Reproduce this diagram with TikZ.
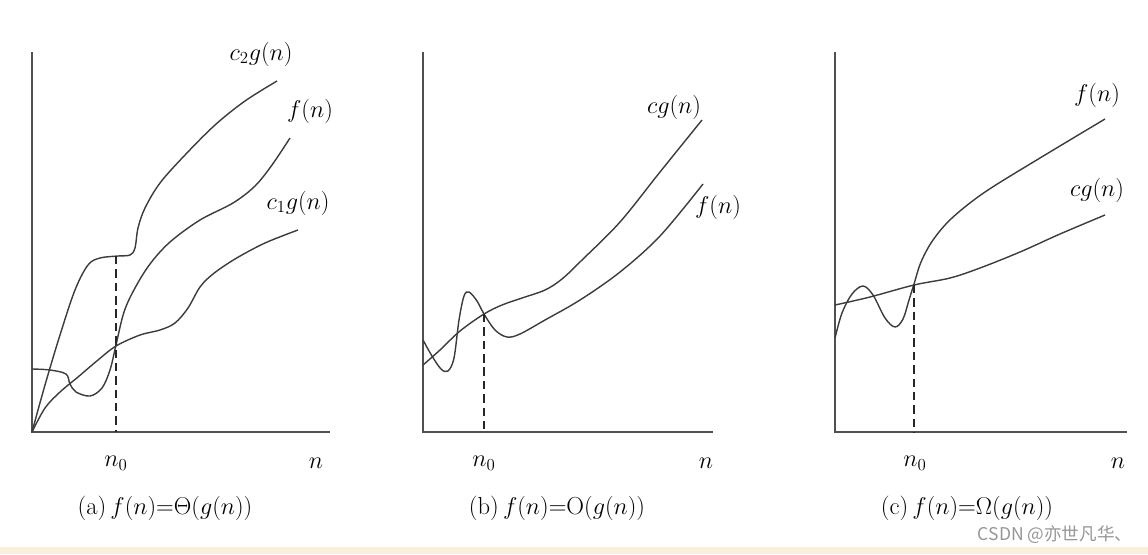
\documentclass[tikz,border=0pt]{standalone}
\usepackage{fontspec}
\usepackage{tikz}
\usetikzlibrary{positioning, calc}
\newfontfamily\cjk{Noto Sans CJK SC}
\definecolor{curvegray}{RGB}{60, 60, 60}
\definecolor{axisgray}{RGB}{80, 80, 80}
\definecolor{markgray}{RGB}{150, 150, 150}
\definecolor{sandbg}{RGB}{250, 238, 220}

\begin{document}
\begin{tikzpicture}[x=0.025cm, y=-0.025cm,
  axis/.style={draw=axisgray, line width=1.3pt},
  curve/.style={draw=curvegray, line width=1pt, smooth, tension=0.55},
  drop/.style={draw=black!85, line width=1.8pt, dash pattern=on 6pt off 3.5pt},
  lbl/.style={font=\fontsize{18}{20}\selectfont, inner sep=0pt},
  capt/.style={font=\fontsize{17.5}{20}\selectfont, inner sep=0pt}
]
  \useasboundingbox (0,0) rectangle (1148,554);
  \fill[sandbg] (0,547) rectangle (1148,554);

  % (a) Theta
  \coordinate (oa) at (32,432);
  \coordinate (ta) at (32,52);
  \coordinate (ea) at (330,432);
  \draw[axis] (ta) -- (oa) -- (ea);
  \draw[curve] plot coordinates {(32,432) (45,385) (60,335) (75,290) (88,265) (100,258) (118,256) (130,255) (135,248) (138,228) (145,208) (160,183) (185,155) (215,125) (245,101) (277,81)};
  \draw[curve] plot coordinates {(32,369) (50,370) (66,374) (70,384) (76,392) (90,396) (102,388) (110,370) (116,345) (124,312) (135,288) (150,264) (170,242) (200,220) (233,203) (255,186) (272,165) (290,138)};
  \draw[curve] plot coordinates {(32,432) (45,408) (60,392) (78,377) (98,360) (116,346) (140,335) (160,330) (175,323) (188,308) (200,287) (213,274) (235,259) (265,243) (298,230)};
  \coordinate (xa) at (116,256);
  \draw[drop] (xa) -- (xa |- oa);
  \node[lbl] (c2a) at (261,54) {$c_2g(n)$};
  \node[lbl] (fa) at (310,111) {$f(n)$};
  \node[lbl] (c1a) at (298,203) {$c_1g(n)$};
  \node[lbl] (n0a) at (116,463) {$n_0$};
  \node[lbl] (na) at (316,463) {$n$};
  \node[capt] (capa) at (165,508) {(a)\,$f(n)$=$\Theta(g(n))$};

  % (b) O
  \coordinate (ob) at (423,432);
  \coordinate (tb) at (423,52);
  \coordinate (eb) at (713,432);
  \draw[axis] (tb) -- (ob) -- (eb);
  \draw[curve] plot coordinates {(423,365) (440,350) (460,331) (484,314) (502,305) (522,298) (545,290) (562,279) (582,260) (620,222) (660,172) (702,120)};
  \draw[curve] plot coordinates {(423,340) (432,356) (441,369) (448,371) (454,358) (459,320) (464,296) (469,292) (477,301) (484,314) (495,330) (507,337) (520,334) (545,320) (580,300) (620,272) (660,236) (703,184)};
  \coordinate (xb) at (484,314);
  \draw[drop] (xb) -- (xb |- ob);
  \node[lbl] (cgb) at (674,107) {$cg(n)$};
  \node[lbl] (fb) at (718,207) {$f(n)$};
  \node[lbl] (n0b) at (484,463) {$n_0$};
  \node[lbl] (nb) at (706,463) {$n$};
  \node[capt] (capb) at (557,508) {(b)\,$f(n)$=O$(g(n))$};

  % (c) Omega
  \coordinate (oc) at (835,432);
  \coordinate (tc) at (835,52);
  \coordinate (ec) at (1127,432);
  \draw[axis] (tc) -- (oc) -- (ec);
  \draw[curve] plot coordinates {(835,338) (842,313) (852,294) (863,286) (873,295) (885,318) (895,327) (903,319) (909,300) (914,284) (921,262) (933,240) (952,218) (985,192) (1040,158) (1105,119)};
  \draw[curve] plot coordinates {(835,305) (870,297) (914,285) (950,278) (980,268) (1020,252) (1060,234) (1105,215)};
  \coordinate (xc) at (914,285);
  \draw[drop] (xc) -- (xc |- oc);
  \node[lbl] (fc) at (1097,95) {$f(n)$};
  \node[lbl] (cgc) at (1097,190) {$cg(n)$};
  \node[lbl] (n0c) at (915,463) {$n_0$};
  \node[lbl] (nc) at (1118,463) {$n$};
  \node[capt] (capc) at (967,508) {(c)\,$f(n)$=$\Omega(g(n))$};

  \node[font=\cjk\fontsize{12.5}{14}\selectfont, text=markgray, inner sep=0pt] (mark) at (1055,535) {CSDN @亦世凡华、};
\end{tikzpicture}
\end{document}
